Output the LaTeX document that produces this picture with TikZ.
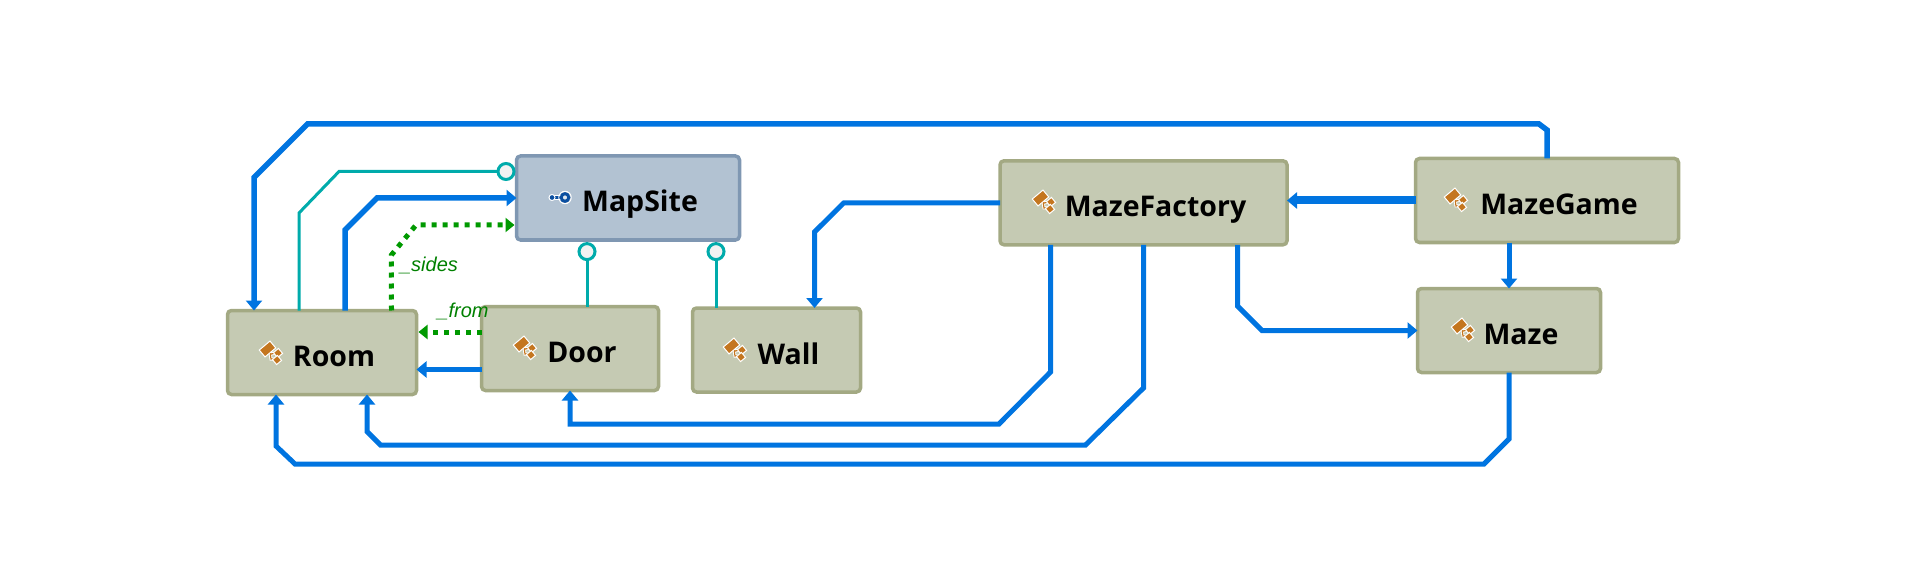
\documentclass[tikz,border=0pt]{standalone}
\usepackage{fontspec}
\setmainfont{Open Sans}
\newfontfamily\linkfont{Liberation Sans}
\usetikzlibrary{arrows.meta,positioning}
\definecolor{classfill}{HTML}{C5CAB3}
\definecolor{classline}{HTML}{A3A983}
\definecolor{ifacefill}{HTML}{B2C2D2}
\definecolor{ifaceline}{HTML}{7F97B2}
\definecolor{linkblue}{HTML}{0074E0}
\definecolor{linkteal}{HTML}{00ABAB}
\definecolor{linkgreen}{HTML}{009900}
\definecolor{iconorange}{HTML}{C4761F}
\definecolor{iconblue}{HTML}{0B4FA0}
\tikzset{
	classbox/.style={draw=classline,fill=classfill,line width=3.5pt,rounded corners=4pt,outer sep=0pt,minimum height=84pt,text height=28pt,text depth=0pt,font=\fontsize{28.5}{32}\selectfont\bfseries},
	ifacebox/.style={classbox,draw=ifaceline,fill=ifacefill},
	assoc/.style={draw=linkblue,line width=#1,-{Triangle[length=10pt,width=16pt]}},
	assoc/.default=5.5pt,
	realize/.style={draw=linkteal,line width=3pt},
	lollipop/.style={circle,draw=linkteal,fill=white!95!black,line width=3pt,inner sep=0pt,minimum size=16pt,outer sep=0pt},
	uses/.style={draw=linkgreen,line width=5pt,dash pattern=on 5pt off 6pt,-{Triangle[length=9pt,width=14pt]}},
	linklabel/.style={text=green!50!black,font=\linkfont\itshape\fontsize{20}{22}\selectfont},
	classicon/.pic={
		\draw[white,line width=3pt] (-1,-2) -- (0,5) -- (4,5) (0,0) -- (5,-1);
		\draw[iconorange,line width=1.2pt] (-1,-2) -- (0,5) -- (4,5) (0,0) -- (5,-1);
		\foreach \cx/\cy/\wd/\ht in {-3.5/-5/14/9,7/-1/6.5/6.5,6/6/6.5/6.5}
			\fill[iconorange,draw=white,line width=1pt,rotate around={40:(\cx,\cy)}] (\cx-\wd/2,\cy-\ht/2) rectangle (\cx+\wd/2,\cy+\ht/2);
	},
	keyicon/.pic={
		\draw[white,line width=4.5pt] (-13,0) -- (-4,0);
		\draw[iconblue,line width=2.4pt] (-13,0) -- (-4,0);
		\fill[iconblue,draw=white,line width=1pt] (-13,0) circle (3);
		\draw[white,line width=1pt] (0,0) circle (6.2);
		\draw[iconblue,fill=ifacefill!40,line width=3pt] (0,0) circle (3.8);
	},
}
\begin{document}
\begin{tikzpicture}[x=1pt,y=-1pt]
	\useasboundingbox (0,0) rectangle (1906,588);

	\node[classbox,minimum width=189pt] (room) at (322,352.5) {\hspace*{24pt}Room};
	\node[ifacebox,minimum width=223pt] (mapsite) at (628,198) {\hspace*{24pt}MapSite};
	\node[classbox,minimum width=177pt] (door) at (570,348.5) {\hspace*{24pt}Door};
	\node[classbox,minimum width=168pt] (wall) at (776.5,350) {\hspace*{24pt}Wall};
	\node[classbox,minimum width=287pt] (factory) at (1143.5,202.8) {\hspace*{24pt}MazeFactory};
	\node[classbox,minimum width=263pt] (game) at (1547,200.5) {\hspace*{24pt}MazeGame};
	\node[classbox,minimum width=183pt] (maze) at (1509,330.5) {\hspace*{24pt}Maze};

	\pic at (271,354) {classicon};
	\pic at (525,349) {classicon};
	\pic at (735,351) {classicon};
	\pic at (1044,203) {classicon};
	\pic at (1456,201) {classicon};
	\pic at (1463,331) {classicon};
	\pic at (565,197.5) {keyicon};

	\node[lollipop] (roomdot) at (506,171.5) {};
	\node[lollipop] (doordot) at (587,251.6) {};
	\node[lollipop] (walldot) at (716,251.6) {};

	\draw[realize] ([xshift=-23pt]room.north) -- (299,213) -- (339,171.5) -- (roomdot);
	\draw[realize] (door.north -| doordot) -- (doordot);
	\draw[realize] (wall.north -| walldot) -- (walldot);

	\draw[assoc] (game.north) -- (1547,130) -- (1539,124) -- (307.5,124) -- (254,177.5) -- ([xshift=-68pt]room.north);
	\draw[assoc] ([xshift=23pt]room.north) -- (345,230) -- (377,198) -- (mapsite.west);
	\draw[assoc] ([yshift=-21pt]door.west) -- ([yshift=-21pt]door.west -| room.east);
	\draw[assoc=5pt] (factory.west) -- (843.6,203) -- (814.5,232) -- ([xshift=38pt]wall.north);
	\draw[assoc=5pt] ([xshift=-93pt]factory.south) -- (1050.5,372) -- (999,424) -- (570,424) -- (door.south);
	\draw[assoc=5pt] (factory.south) -- (1143.5,388) -- (1085.5,445) -- (380.5,445) -- (367,431.5) -- ([xshift=45pt]room.south);
	\draw[assoc=5pt] ([xshift=94pt]factory.south) -- (1237.5,306) -- (1262,330.5) -- (maze.west);
	\draw[assoc=8pt] (game.west) -- (game.west -| factory.east);
	\draw[assoc=5pt] (maze.north |- game.south) -- (maze.north);
	\draw[assoc=5pt] (maze.south) -- (1509,439) -- (1484,464) -- (295,464) -- (276,446) -- ([xshift=-46pt]room.south);

	\draw[uses] ([xshift=69.5pt]room.north) -- (391.4,255) -- (416,225) -- ([yshift=-27pt,xshift=-2pt]mapsite.west);
	\draw[uses] ([yshift=16.5pt]door.west) -- ([yshift=16.5pt,xshift=2pt]door.west -| room.east);

	\node[linklabel] (sides) at (429,265) {\_sides};
	\node[linklabel] (from) at (463,311) {\_from};
\end{tikzpicture}
\end{document}
